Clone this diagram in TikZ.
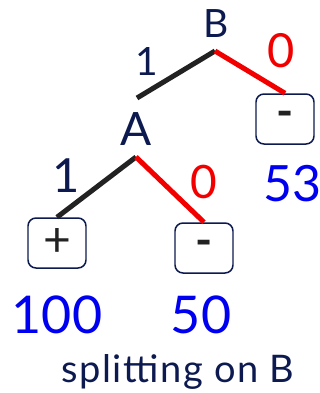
\documentclass[tikz,border=0pt]{standalone}
\usepackage{fontspec}
\setmainfont{Lato}
\definecolor{navy}{HTML}{0D1A4F}
\definecolor{lineblk}{HTML}{222222}
\definecolor{numblue}{HTML}{0000F0}
\definecolor{redl}{HTML}{F20000}
\tikzset{
  lbl/.style={inner sep=0pt, anchor=base, text=navy},
  zero/.style={inner sep=0pt, anchor=base, text=redl},
  cnt/.style={inner sep=0pt, anchor=base, text=numblue},
  leaf/.style={draw=navy, line width=1.5pt, rounded corners=8pt, minimum width=58bp, minimum height=50bp, inner sep=0pt, text=lineblk},
  one/.style={draw=lineblk, line width=5bp},
  nul/.style={draw=redl, line width=5bp},
}
\newcommand{\fs}[1]{\fontsize{#1bp}{#1bp}\selectfont}
\newcommand{\minus}{\raisebox{-6bp}{\fs{46}\bfseries -}}
\newcommand{\plus}{\fs{48}+}
\begin{document}
\begin{tikzpicture}[x=1bp, y=-1bp]
\useasboundingbox (0,0) rectangle (320,393);
% split on B
\node[lbl] (B) at (216,37) {\fs{39}B};
\coordinate (Bj) at (215,51);
\coordinate (Atop) at (137,98);
\node[leaf] (L3) at (285,119) {\minus};
\draw[one] (Bj) -- (Atop);
\draw[nul] (Bj) -- (L3.north);
\node[lbl] (b1) at (147,75) {\fs{39}1};
\node[zero] (b0) at (281,67) {\fs{47}0};
\node[cnt] (c53) at (292,201) {\fs{50}53};
% split on A
\node[lbl] (A) at (136,145) {\fs{46}A};
\coordinate (Aj) at (136,157);
\node[leaf] (L1) at (57,243) {\plus};
\node[leaf] (L2) at (204,248) {\minus};
\draw[one] (Aj) -- (L1.north);
\draw[nul] (Aj) -- (L2.north);
\node[lbl] (a1) at (66,192) {\fs{47}1};
\node[zero] (a0) at (204,198) {\fs{46}0};
\node[cnt] (c100) at (57,333) {\fs{52}100};
\node[cnt] (c50) at (201,333) {\fs{52}50};
% caption
\node[lbl] (cap) at (178,382) {\fs{38}\addfontfeature{LetterSpace=4}splitting on B};
\end{tikzpicture}
\end{document}
